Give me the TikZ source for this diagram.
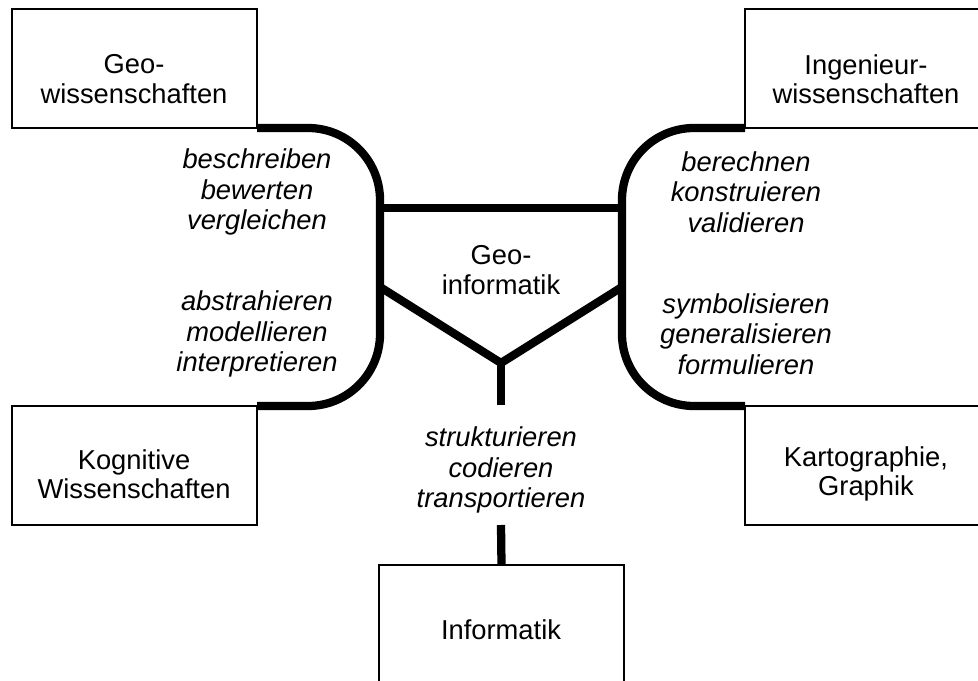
\documentclass[tikz,border=0pt]{standalone}
\usepackage{fontspec}
\setmainfont{Liberation Sans}
\begin{document}
\begin{tikzpicture}[x=0.75pt,y=-0.75pt,
  every node/.style={inner sep=0pt, outer sep=0pt},
  field/.style={draw, line width=0.9pt, minimum width=245*0.75pt, minimum height=119*0.75pt, anchor=north west},
  fieldtext/.style={align=center, font=\fontsize{20.5pt}{22pt}\selectfont},
  verbs/.style={align=center, font=\fontsize{20.5pt}{23pt}\selectfont\itshape},
  link/.style={line width=6.2pt, line cap=butt, line join=miter},
  curved/.style={link, rounded corners=54pt}]
\useasboundingbox (0,0) rectangle (978,681);

% disciplines around the centre
\node[field] (geo) at (12,9) {};
\node[field] (ing) at (745,9) {};
\node[field] (kog) at (12,406) {};
\node[field] (kar) at (745,406) {};
\node[field] (inf) at (379,565) {};

\node[fieldtext] (geoT) at (134,79) {Geo-\\wissenschaften};
\node[fieldtext] (ingT) at (866,79) {Ingenieur-\\wissenschaften};
\node[fieldtext] (kogT) at (134,474) {Kognitive\\Wissenschaften};
\node[fieldtext] (karT) at (866,474) {Kartographie,\\Graphik};
\node[fieldtext] (infT) at (501,630) {Informatik};

% central field
\node[fieldtext] (gi) at (501,270) {Geo-\\informatik};

% joints of the bracket shape
\coordinate (lv) at (380,267);
\coordinate (rv) at (622,267);
\coordinate (lbar) at (380,208);
\coordinate (rbar) at (622,208);
\coordinate (lvee) at (380,287);
\coordinate (rvee) at (622,287);
\coordinate (vtip) at (501,363);
\coordinate (stemA) at (501,405);
\coordinate (stemB) at (501,525);

\draw[curved] (geo.south east) -| (lv) |- (kog.north east);
\draw[curved] (ing.south west) -| (rv) |- (kar.north west);
\draw[link] (lbar) -- (rbar);
\draw[link] (lvee) -- (vtip) -- (rvee);
\draw[link] (vtip) -- (stemA);
\draw[link] (stemB) -- (inf.north);

% activity labels
\node[verbs] (v1) at (257,192) {beschreiben\\bewerten\\vergleichen};
\node[verbs] (v2) at (257,334) {abstrahieren\\modellieren\\interpretieren};
\node[verbs] (v3) at (746,192) {berechnen\\konstruieren\\validieren};
\node[verbs] (v4) at (746,334) {symbolisieren\\generalisieren\\formulieren};
\node[verbs] (v5) at (501,470) {strukturieren\\codieren\\transportieren};
\end{tikzpicture}
\end{document}
